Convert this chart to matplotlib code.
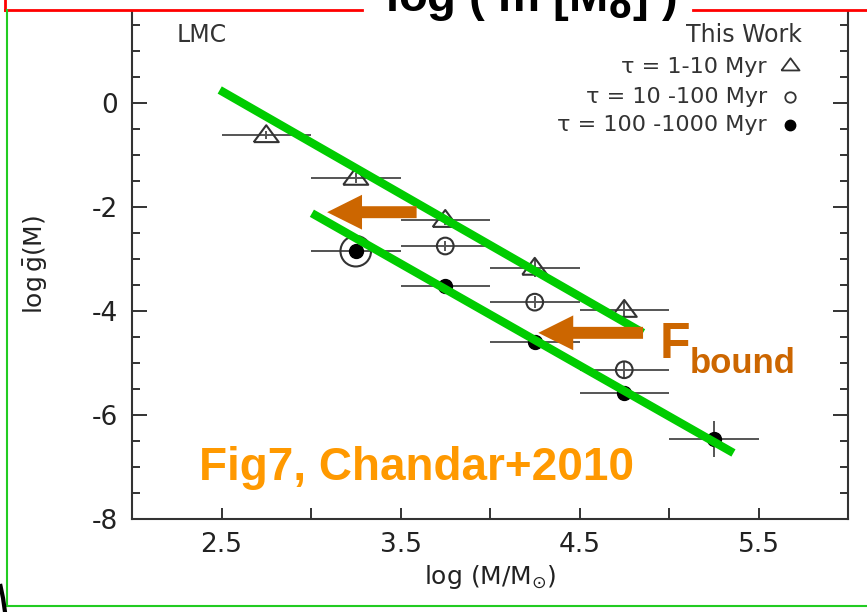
import numpy as np
import matplotlib
matplotlib.use('Agg')
import matplotlib.pyplot as plt
from matplotlib.lines import Line2D
from matplotlib.patches import Rectangle

plt.rcParams['axes.unicode_minus'] = False

# LMC cluster mass function, Chandar+2010 fig 7
logm_young = [2.75, 3.25, 3.75, 4.25, 4.75]
logg_young = [-0.62, -1.44, -2.25, -3.17, -3.98]
yerr_young = [0.08, 0.1, 0.1, 0.17, 0.18]

logm_mid = [3.25, 3.75, 4.25, 4.75]
logg_mid = [-2.85, -2.75, -3.83, -5.13]
yerr_mid = [0.1, 0.1, 0.12, 0.17]
size_mid = [22, 12, 12, 12]

logm_old = [3.25, 3.75, 4.25, 4.75, 5.25]
logg_old = [-2.85, -3.52, -4.6, -5.58, -6.46]
yerr_old = [0.1, 0.1, 0.1, 0.12, 0.35]

bin_halfwidth = 0.25
age_labels = ['τ = 1-10 Myr', 'τ = 10 -100 Myr', 'τ = 100 -1000 Myr']

# overplotted green guide lines and the F_bound arrows
upper_x = [2.49, 4.855]
upper_y = [0.25, -4.42]
lower_x = [3.005, 5.36]
lower_y = [-2.12, -6.73]
arrow_tail_x = [3.59, 4.855]
arrow_tip_x = [3.09, 4.27]
arrow_y = [-2.1, -4.42]

W, H = 867, 612
fig = plt.figure(figsize=(W/100, H/100), dpi=100)
ax = fig.add_axes([132/W, 1 - 519/H, 716/W, 520/H])

def px(x, y):
    return x/W, 1 - y/H

gray = '#333333'
tri = [(-1, -0.55), (1, -0.55), (0, 0.8), (-1, -0.55)]

# error bars
for xs, ys, ye in [(logm_young, logg_young, yerr_young),
                   (logm_mid, logg_mid, yerr_mid),
                   (logm_old, logg_old, yerr_old)]:
    ax.errorbar(xs, ys, xerr=bin_halfwidth, yerr=ye, fmt='none',
                ecolor='#555555', elinewidth=1.4, capsize=0, zorder=2)

ax.scatter(logm_young, logg_young, s=18**2, marker=tri, facecolors='none',
           edgecolors=gray, linewidths=1.5, zorder=3)
ax.scatter(logm_mid, logg_mid, s=np.array(size_mid)**2, marker='o',
           facecolors='none', edgecolors=gray, linewidths=1.5, zorder=3)
ax.scatter(logm_old, logg_old, s=10**2, marker='o', facecolors='black',
           edgecolors='black', zorder=4)

ax.set_xlim(2.0, 6.0)
ax.set_ylim(-8, 2)
ax.set_xticks([2.5, 3.5, 4.5, 5.5])
ax.set_xticklabels(['2.5', '3.5', '4.5', '5.5'])
ax.set_xticks([2.0, 3.0, 4.0, 5.0, 6.0], minor=True)
ax.set_yticks([-8, -6, -4, -2, 0, 2])
ax.set_yticklabels(['-8', '-6', '-4', '-2', '0', '2'])
ax.set_yticks(np.arange(-8, 2.01, 0.5), minor=True)

ax.tick_params(axis='x', which='both', direction='in', length=8, width=1.4,
               color=gray, labelsize=19, pad=9, labelcolor='#222222', top=False)
ax.tick_params(axis='y', which='major', direction='in', length=11, width=1.4,
               color=gray, labelsize=19, pad=10, labelcolor='#222222', right=True)
ax.tick_params(axis='y', which='minor', direction='in', length=5.5, width=1.4,
               color=gray, right=True)
for s in ax.spines.values():
    s.set_color(gray)
    s.set_linewidth(1.5)

ax.set_xlabel(r'log (M/M$_{\odot}$)', fontsize=18, color='#222222', labelpad=4)
ax.set_ylabel(r'log$\,\bar{\mathregular{g}}$(M)', fontsize=18, color='#222222')
ax.yaxis.set_label_coords(-0.115, 0.49)

# legend block of the scanned figure
ax.text(0.063, 0.917, 'LMC', transform=ax.transAxes, fontsize=17,
        color=gray, va='baseline')
ax.text(0.936, 0.917, 'This Work', transform=ax.transAxes, fontsize=17,
        color=gray, va='baseline', ha='right')
row_y = [0.869, 0.8115, 0.758]
for lab, yy in zip(age_labels, row_y):
    ax.text(0.887, yy, lab, transform=ax.transAxes, fontsize=16,
            color=gray, va='center', ha='right')
ax.plot(0.919, row_y[0] + 0.004, marker=tri, ms=13, mfc='none', mec=gray,
        mew=1.3, transform=ax.transAxes)
ax.plot(0.919, row_y[1], marker='o', ms=7.5, mfc='none', mec=gray,
        mew=1.3, transform=ax.transAxes)
ax.plot(0.919, row_y[2], marker='o', ms=7.5, mfc='black', mec='black',
        transform=ax.transAxes)

# overlays
ax.plot(upper_x, upper_y, color='#00cc00', lw=6, solid_capstyle='butt', zorder=6)
ax.plot(lower_x, lower_y, color='#00cc00', lw=6, solid_capstyle='butt', zorder=6)
for xt, xh, yy in zip(arrow_tail_x, arrow_tip_x, arrow_y):
    ax.arrow(xt, yy, xh - xt, 0, width=0.23, head_width=0.67,
             head_length=0.195, length_includes_head=True,
             fc='#cc6600', ec='none', zorder=7)

ax.text(4.95, -4.9, 'F', fontsize=36, fontweight='bold', color='#cc6600',
        family='Liberation Sans', va='baseline', zorder=8)
ax.text(5.117, -5.19, 'bound', fontsize=25, fontweight='bold', color='#cc6600',
        family='Liberation Sans', va='baseline', zorder=8)
ax.text(2.374, -7.25, 'Fig7, Chandar+2010', fontsize=33, fontweight='bold',
        color='#ff9900', family='Liberation Sans', va='baseline', zorder=8)

# slide decorations: red title box, green frame
fig.add_artist(Rectangle(px(5, 10), 1, 10/H, transform=fig.transFigure,
                         facecolor='white', edgecolor='none', zorder=5))
for xs, ys, c, lw in [([5, 362], [10, 10], 'red', 2),
                      ([693, 867], [10, 10], 'red', 2),
                      ([5, 5], [0, 10], 'red', 2),
                      ([7, 7], [10, 606], '#22cc22', 1.5),
                      ([7, 867], [606, 606], '#22cc22', 1.5),
                      ([0.5, 3, 5], [586, 598, 612], 'black', 3)]:
    p = [px(a, b) for a, b in zip(xs, ys)]
    fig.add_artist(Line2D([q[0] for q in p], [q[1] for q in p],
                          color=c, lw=lw, transform=fig.transFigure, zorder=6))
tx, ty = px(385, 11)
fig.text(tx, ty, r'log ( m [M$_{\mathbf{o}}$] )', fontsize=34, fontweight='bold',
         family='Liberation Sans', va='baseline', ha='left', zorder=7)

fig.savefig('out.png', dpi=100)
